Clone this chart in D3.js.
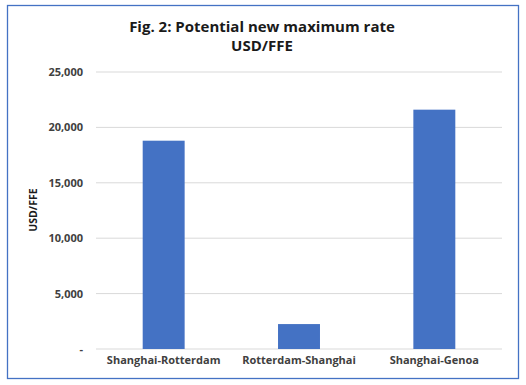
<!DOCTYPE html>
<html>
<head>
<meta charset="utf-8">
<script src="https://cdn.jsdelivr.net/npm/d3@7"></script>
<style>
  body { margin: 0; background: #fff; }
  text { font-family: "Open Sans", "Noto Sans", sans-serif; }
</style>
</head>
<body>
<div id="chart"></div>
<script>
// routes and rates (USD/FFE)
const routes = ["Shanghai-Rotterdam", "Rotterdam-Shanghai", "Shanghai-Genoa"];
const rates = [18800, 2250, 21600];
const yTicks = [0, 5000, 10000, 15000, 20000, 25000];
const titleLines = ["Fig. 2: Potential new maximum rate", "USD/FFE"];

const W = 526, H = 385;
const m = { left: 96, right: 24, top: 72, bottom: 36 };

const svg = d3.select("#chart").append("svg")
  .attr("width", W).attr("height", H);

svg.append("rect")
  .attr("x", 7.5).attr("y", 5.5)
  .attr("width", 511).attr("height", 373)
  .attr("fill", "#fff")
  .attr("stroke", "#4472c4").attr("stroke-width", 1.3);

const x = d3.scaleBand().domain(routes)
  .range([m.left, W - m.right]).paddingInner(0.69).paddingOuter(0.345);
const y = d3.scaleLinear().domain([0, 25000]).range([349, m.top]);

// gridlines
svg.append("g").selectAll("line").data(yTicks).join("line")
  .attr("x1", m.left).attr("x2", W - m.right)
  .attr("y1", d => y(d)).attr("y2", d => y(d))
  .attr("stroke", "#d9d9d9").attr("stroke-width", 1);

// y axis labels
const yAxis = d3.axisLeft(y).tickValues(yTicks).tickSize(0).tickPadding(13)
  .tickFormat(d => d === 0 ? "-" : d3.format(",")(d));
const ga = svg.append("g").attr("transform", `translate(${m.left},0)`).call(yAxis);
ga.select(".domain").remove();
ga.selectAll("text").attr("font-size", 11).attr("font-weight", "bold")
  .attr("fill", "#404040").style("font-family", '"Open Sans", sans-serif');

// bars
svg.append("g").selectAll("rect").data(rates).join("rect")
  .attr("x", (d, i) => x(routes[i]))
  .attr("width", x.bandwidth())
  .attr("y", d => y(d))
  .attr("height", d => y(0) - y(d))
  .attr("fill", "#4472c4");

// x axis labels
const xAxis = d3.axisBottom(x).tickSize(0).tickPadding(7);
const gx = svg.append("g").attr("transform", `translate(0,${y(0)})`).call(xAxis);
gx.select(".domain").remove();
gx.selectAll("text").attr("font-size", 11).attr("font-weight", "bold")
  .attr("fill", "#404040").style("font-family", '"Open Sans", sans-serif');

// y axis title
svg.append("text")
  .attr("transform", "translate(37,210) rotate(-90)")
  .attr("text-anchor", "middle")
  .attr("font-size", 10.5).attr("font-weight", "bold").attr("fill", "#1a1a1a")
  .text("USD/FFE");

// title
svg.append("g").selectAll("text").data(titleLines).join("text")
  .attr("x", 262).attr("y", (d, i) => 32 + i * 19)
  .attr("text-anchor", "middle")
  .attr("font-size", 15).attr("font-weight", "bold").attr("fill", "#1a1a1a")
  .text(d => d);
</script>
</body>
</html>
